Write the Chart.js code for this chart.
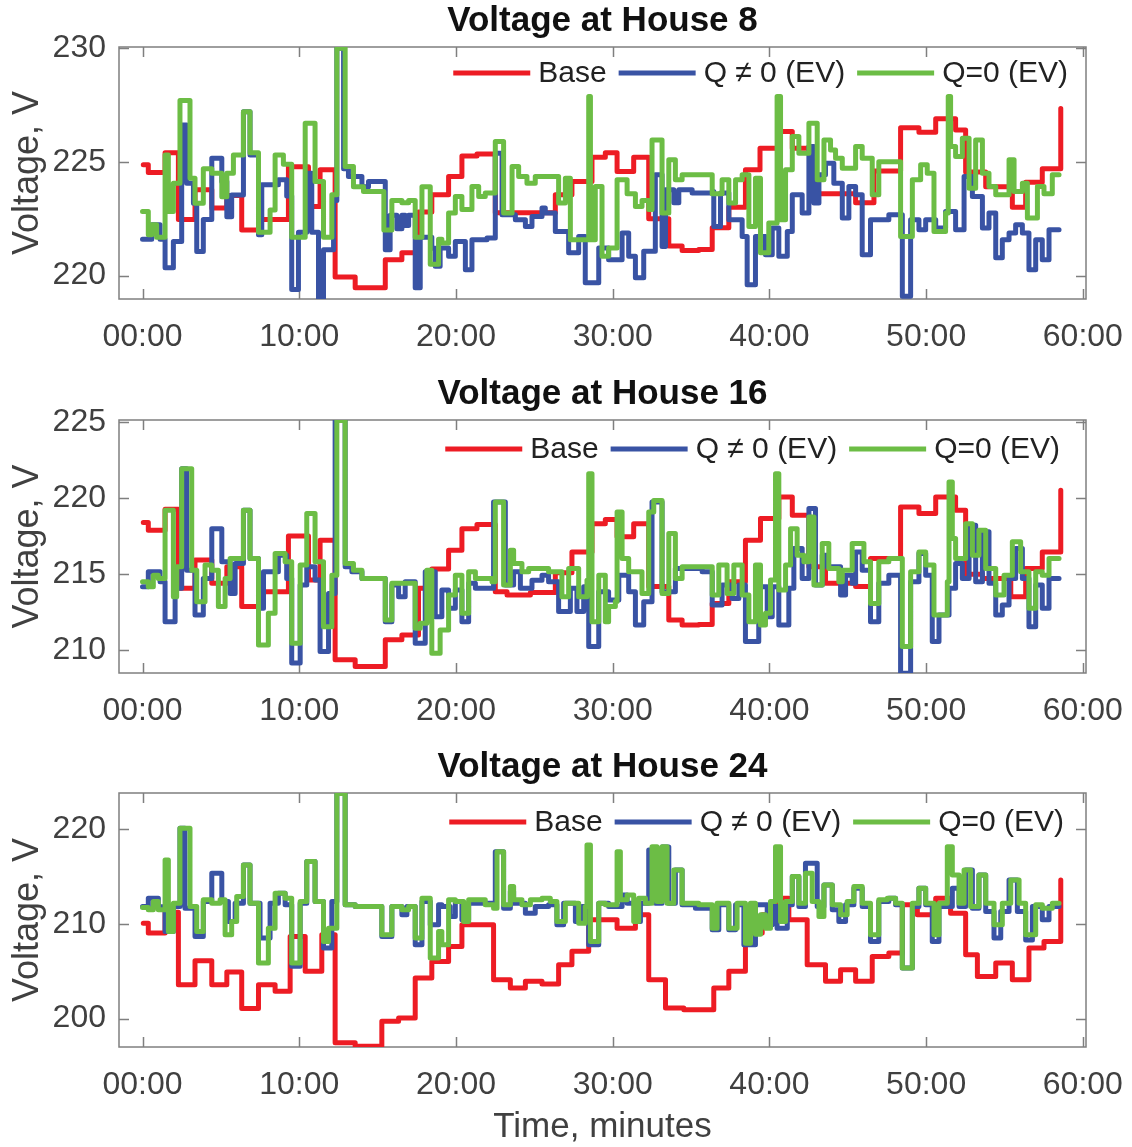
<!DOCTYPE html>
<html>
<head>
<meta charset="utf-8">
<title>Voltage at houses</title>
<script src="https://cdn.jsdelivr.net/npm/chart.js@4.4.1/dist/chart.umd.min.js"></script>
<style>
    html, body { margin: 0; padding: 0; background: #fff; overflow: hidden; }
    canvas { position: absolute; left: 0; }
</style>
</head>
<body>
<canvas id="house8" width="1132" height="372" style="top:0px"></canvas>
<canvas id="house16" width="1132" height="373" style="top:373px"></canvas>
<canvas id="house24" width="1132" height="401" style="top:746px"></canvas>
<script>
// Step series: each time (minutes) starts a new level that holds until the next time.

// ---- House 8 ----
const h8BaseT = [0.05,0.37,1.44,2.29,3.35,4.42,5.38,6.33,7.40,9.31,10.59,11.33,12.29,13.57,15.49,16.55,17.61,18.46,19.53,20.38,21.34,22.51,26.34,27.40,28.68,29.53,30.28,31.34,32.30,33.58,34.43,35.49,36.35,37.41,38.47,39.40,40.60,41.46,42.73,45.50,46.67,48.37,49.54,50.61,51.88,52.52,53.80,55.50,56.35,57.41,58.59];
const h8BaseV = [224.87,224.53,225.4,222.46,223.77,222.97,223.52,222.0,222.46,224.78,223.04,224.65,219.94,219.46,220.7,221.0,222.8,223.55,224.36,225.26,225.35,222.76,223.55,224.14,225.2,225.4,224.58,225.2,222.5,221.3,221.1,221.15,222.1,223.0,224.65,225.6,226.33,225.6,223.6,223.2,224.6,226.5,226.3,226.9,226.4,224.55,223.9,223.0,224.1,224.7,227.35];

const h8QT = [0,0.59,1.12,1.44,1.97,2.50,2.82,3.25,3.46,3.88,4.42,5.06,5.38,5.69,6.44,6.86,7.40,7.61,8.67,9.20,9.52,9.95,10.48,10.80,11.23,11.55,12.19,12.40,12.83,13.14,14.0,14.42,15.49,15.80,16.23,16.55,16.76,16.98,17.40,17.72,18.46,18.68,18.99,19.53,19.96,20.60,21.02,21.98,22.51,22.94,23.79,24.43,24.85,25.49,25.70,26.34,27.19,27.83,28.25,29.11,29.74,30.60,31.02,31.45,31.98,32.72,33.15,33.37,33.90,34.22,35.07,36.35,36.45,36.88,37.41,38.26,38.58,39.11,39.75,40.18,40.60,41.14,41.46,42.09,42.52,42.84,43.16,43.58,44.11,44.65,45.07,45.50,45.92,46.45,47.62,48.48,49.01,49.54,49.97,50.61,51.24,51.88,52.42,52.95,53.59,54.01,54.44,54.86,55.29,55.71,56.14,56.56,56.99,57.41,57.84,58.48];
const h8QV = [221.6,222.24,221.6,220.34,221.5,226.62,224.06,223.18,221.06,222.46,225.16,224.14,222.59,223.54,227.2,225.3,221.8,223.99,224.21,223.5,219.39,221.9,224.5,221.9,218.95,221.14,223.3,230.0,224.7,224.36,223.9,224.14,221.14,222.65,222.06,222.65,222.2,222.65,219.46,221.68,221.2,220.41,221.21,220.85,221.5,220.26,221.58,221.65,225.38,222.67,222.45,222.16,222.6,222.97,222.75,221.94,221.0,221.72,219.68,221.21,220.7,221.87,220.85,219.9,221.07,224.43,221.28,223.77,223.2,223.77,223.63,223.7,222.16,223.63,222.45,221.72,219.6,221.72,220.92,222.09,220.85,221.94,223.55,222.75,225.67,223.19,224.43,224.94,224.06,222.53,223.92,223.55,220.92,222.45,222.67,219.09,222.45,222.02,222.45,222.09,222.82,222.02,224.36,223.48,222.09,222.75,220.78,221.58,221.87,222.24,221.87,220.26,221.58,220.7,222.02,222.02];

const h8ZeroT = [0,0.37,0.59,0.90,1.44,1.65,1.97,2.39,3.03,3.35,3.88,4.42,5.06,5.38,5.80,6.44,6.86,7.40,8.14,8.46,8.99,9.52,10.38,11.01,11.55,12.08,12.40,12.93,13.46,14.10,15.40,15.91,16.55,16.98,17.40,17.83,18.36,18.89,19.10,19.53,19.96,20.38,21.02,21.45,21.87,22.51,23.04,23.58,24.0,24.53,25.06,26.55,26.98,27.30,28.47,28.58,28.89,29.32,29.74,30.28,30.92,31.45,31.87,32.30,32.51,33.15,33.58,34.0,34.43,36.35,36.98,37.41,37.84,38.26,38.69,39.11,39.43,39.96,40.49,40.71,41.03,41.46,41.88,42.52,43.05,43.48,43.90,44.22,44.65,45.50,45.92,46.56,46.98,48.37,49.12,49.65,50.07,50.50,51.24,51.41,51.56,51.88,52.31,52.74,53.16,53.59,54.01,54.44,55.29,55.61,56.14,56.46,57.10,57.52,58.05,58.48];
const h8ZeroV = [222.82,221.8,222.24,221.68,225.3,222.82,224.06,227.7,224.28,223.18,224.7,224.5,223.47,224.5,225.3,227.2,225.4,221.9,222.88,225.3,224.9,221.68,226.7,224.14,221.68,223.55,230.0,224.8,223.9,223.7,222.0,223.3,223.2,223.3,221.68,223.9,220.5,221.6,221.43,222.75,223.48,222.9,223.92,223.48,223.63,225.89,222.75,224.8,224.36,224.06,224.36,223.19,224.28,221.58,227.87,221.58,223.92,220.85,221.21,224.21,223.6,223.04,223.3,222.9,225.96,222.75,225.09,224.21,224.43,223.6,224.21,223.19,224.21,224.43,222.16,224.28,221.0,222.31,227.87,222.45,224.65,226.11,225.38,226.7,224.21,225.96,225.52,225.16,224.72,225.67,225.16,223.55,225.01,221.72,224.21,224.87,224.5,221.94,222.75,227.87,225.67,225.23,226.04,223.84,225.96,224.5,223.92,223.55,225.09,223.7,224.06,222.53,223.92,223.6,224.43,224.43];

// ---- House 16 ----
const h16BaseT = [0.05,0.37,1.44,2.29,3.35,4.42,5.38,6.33,7.40,9.31,10.59,11.33,12.29,13.57,15.49,16.55,17.61,18.46,19.53,20.38,21.34,22.51,23.26,24.75,26.34,27.40,28.68,29.53,30.28,31.34,32.30,33.58,34.43,35.49,36.35,37.41,38.47,39.43,40.60,41.46,42.52,43.58,45.50,46.45,48.37,49.54,50.61,51.88,52.52,53.59,55.40,56.35,57.41,58.59];
const h16BaseV = [218.4,217.9,219.27,214.07,215.93,214.4,215.49,212.87,213.85,217.52,214.62,217.24,209.37,208.93,210.68,211.0,214.07,215.34,216.58,218.0,218.27,213.85,213.63,213.8,215.1,216.47,218.33,218.6,217.46,218.33,214.2,211.99,211.66,211.7,213.08,214.5,217.24,218.66,220.08,218.88,215.49,214.4,214.2,216.04,219.43,218.99,220.08,219.21,215.0,214.72,213.52,215.38,216.47,220.52];

const h16QT = [0,0.37,1.12,1.44,2.08,2.50,2.82,3.35,3.88,4.42,5.06,5.59,5.91,6.44,6.86,7.40,7.72,8.67,9.20,9.52,10.06,10.48,11.01,11.33,11.87,12.29,12.93,13.36,14.0,15.49,15.91,16.34,16.76,17.40,18.04,18.68,19.10,19.53,19.96,20.38,20.81,21.24,22.40,23.15,23.68,24.11,24.85,25.49,25.91,26.55,27.30,27.72,28.15,28.47,29.11,29.74,30.39,31.02,31.45,31.98,32.51,33.15,34.0,35.71,36.35,36.98,37.62,38.05,38.47,39.32,39.86,40.18,40.60,41.24,41.56,42.09,42.52,42.94,43.37,43.69,44.54,44.86,45.28,45.50,45.92,46.45,46.98,47.62,48.37,49.01,49.54,49.97,50.39,50.82,51.46,51.88,52.31,52.74,53.16,53.59,54.01,54.44,54.86,55.29,55.71,56.14,56.56,56.99,57.41,57.84,58.48];
const h16QV = [214.18,215.16,214.5,211.88,214.07,221.94,215.27,212.32,214.72,218.0,215.82,213.74,215.71,219.21,216.04,212.76,215.16,216.25,214.72,209.15,214.29,215.49,214.62,209.91,213.74,225.11,215.49,215.16,214.72,211.88,214.29,213.52,214.5,210.46,215.16,212.21,213.96,212.76,213.96,211.88,214.4,214.07,219.75,214.29,215.16,214.07,214.6,214.94,214.5,212.54,214.07,212.54,214.18,210.24,213.85,213.3,214.94,213.85,211.66,213.19,219.75,213.85,215.38,215.16,212.97,214.29,213.41,214.29,210.57,214.18,212.21,214.18,211.66,214.07,216.69,214.72,219.32,214.29,216.25,215.49,213.63,214.94,214.4,216.47,215.27,211.88,214.4,214.94,208.49,214.5,216.36,214.94,210.57,212.32,214.07,215.71,214.72,218.22,214.5,217.79,214.4,212.32,212.97,214.72,216.69,214.72,211.55,214.29,212.76,214.72,214.72];

const h16ZeroT = [0,0.37,0.69,1.01,1.44,1.97,2.18,2.50,3.14,3.46,3.99,4.42,4.84,5.27,5.59,6.44,6.86,7.40,8.03,8.46,9.10,9.52,10.06,10.48,11.01,11.55,12.08,12.40,12.93,13.46,14.0,15.49,15.91,17.40,17.72,18.14,18.46,18.99,19.53,19.96,20.38,20.81,21.24,22.30,22.51,23.04,23.47,23.68,24.21,24.64,25.91,26.76,27.19,27.83,28.36,28.47,28.68,29.11,29.53,29.74,30.17,30.28,30.60,31.02,31.87,32.30,32.62,33.15,33.58,34.0,34.43,36.35,36.77,37.30,37.73,38.26,38.69,39.11,39.43,39.75,40.07,40.39,40.60,41.03,41.35,41.77,42.20,42.52,42.84,43.37,43.79,44.43,44.65,45.28,46.03,46.45,46.98,47.62,48.48,49.01,49.54,49.97,50.50,51.35,51.46,51.67,51.88,52.52,52.95,53.37,53.80,54.44,54.97,55.50,56.03,56.56,56.99,57.41,57.84,58.48];
const h16ZeroV = [214.5,214.18,214.94,214.72,219.21,213.52,215.49,221.94,215.27,213.19,215.6,215.27,212.87,214.72,216.04,219.21,216.04,210.35,212.43,216.36,215.82,210.46,215.6,218.99,215.82,211.55,214.94,225.11,215.71,215.27,214.72,211.99,214.4,211.44,211.77,215.27,209.8,211.33,213.63,214.94,212.43,215.16,214.72,214.5,219.75,214.29,216.58,215.71,215.16,215.38,215.16,213.52,215.38,213.52,214.6,221.61,211.88,214.94,211.88,212.87,213.2,219.1,216.04,215.16,213.74,219.1,219.86,213.74,217.68,214.72,215.49,213.63,215.6,213.74,215.6,213.63,211.88,215.6,211.66,212.43,214.62,221.61,213.96,215.6,218.0,216.25,215.82,218.77,214.29,217.02,215.38,214.5,215.27,217.02,215.82,213.08,215.82,216.04,210.24,215.16,216.47,215.6,212.32,214.5,221.07,217.35,216.04,218.33,216.25,217.9,215.38,213.63,214.94,217.13,215.16,212.76,215.16,214.94,216.04,216.04];

// ---- House 24 ----
const h24BaseT = [0.05,0.37,1.44,2.29,3.35,4.42,5.38,6.33,7.40,8.46,9.42,10.38,11.44,12.29,13.57,15.27,16.34,17.40,18.46,19.53,20.38,22.40,23.47,24.43,25.49,26.55,27.40,28.47,30.28,31.45,32.30,33.37,34.54,36.45,37.41,38.47,39.54,40.39,41.24,42.41,43.58,44.54,45.50,46.56,47.62,48.48,49.44,50.61,51.56,52.52,53.27,54.44,55.50,56.56,57.52,58.59];
const h24BaseV = [210.07,209.02,211.23,203.58,206.1,203.58,204.91,201.05,203.58,202.88,208.67,204.98,208.84,197.44,197.09,199.72,200.07,204.28,206.03,207.61,209.89,204.1,203.23,203.93,203.65,205.68,207.09,210.42,209.54,210.95,204.1,201.12,200.94,203.23,204.98,209.02,210.95,212.7,210.42,205.68,203.93,205.16,203.93,206.56,206.91,212.0,210.95,212.7,211.12,206.73,204.45,205.86,204.1,207.44,208.14,214.63];

const h24QT = [0,0.37,1.01,1.44,1.97,2.39,2.71,3.35,3.88,4.42,5.06,5.48,5.91,6.44,6.86,7.50,8.14,8.67,9.10,9.52,10.06,10.48,11.01,11.55,12.08,12.40,12.93,13.57,15.27,15.91,16.55,16.87,17.40,17.83,18.36,18.89,19.10,19.63,19.96,20.38,20.81,22.51,23.04,23.47,23.68,24.43,25.06,25.91,26.44,26.87,27.62,28.04,28.47,29.11,29.74,30.60,30.92,31.45,31.77,32.30,32.72,33.15,33.58,34.0,34.43,35.28,36.35,36.77,37.41,37.84,38.37,39.11,39.86,40.18,40.49,41.14,41.46,41.88,42.30,43.05,43.48,44.01,44.43,44.86,45.39,45.92,46.45,46.98,47.62,48.05,48.48,49.12,49.54,49.97,50.39,50.82,51.67,52.10,52.52,52.95,53.37,53.80,54.33,54.76,55.29,55.82,56.35,56.78,57.41,57.84,58.48];
const h24QV = [211.82,212.7,211.8,209.19,211.82,220.07,211.65,208.67,212.35,215.33,212.35,210.24,212.18,216.21,212.18,208.5,212.18,213.23,212.0,205.51,212.18,216.56,212.35,207.44,212.35,223.75,212.0,211.82,208.67,211.82,210.95,211.82,207.79,212.35,209.89,212.0,211.82,210.77,212.35,210.42,212.18,217.61,211.65,213.4,212.18,211.12,211.82,212.0,209.89,212.18,210.24,211.82,207.79,212.18,211.82,213.05,212.18,210.24,212.18,217.79,212.18,218.1,212.18,215.68,212.0,211.65,209.37,212.0,209.37,212.0,207.79,212.0,209.89,211.82,209.54,212.0,214.98,211.82,216.39,211.82,214.1,211.47,210.24,212.0,213.75,211.82,208.14,212.35,212.7,212.0,205.33,211.82,213.75,212.0,208.14,211.82,213.75,211.82,215.68,211.65,215.16,211.3,208.49,211.3,214.63,211.3,208.3,211.82,210.42,211.82,211.82];

const h24ZeroT = [0,0.37,0.69,1.01,1.44,1.65,1.97,2.39,3.03,3.46,3.88,4.42,4.95,5.27,5.69,6.01,6.44,6.86,7.40,8.03,8.46,9.10,9.52,10.06,10.48,11.01,11.55,11.87,12.40,12.93,13.57,15.27,15.91,16.55,16.98,17.40,17.83,18.36,18.89,19.10,19.53,19.96,20.49,20.81,21.87,22.40,22.62,23.04,23.47,23.68,24.21,24.75,25.49,26.02,26.44,26.98,27.83,28.25,28.36,28.58,29.11,29.53,30.28,30.49,30.92,31.34,31.66,32.09,32.51,32.83,33.15,33.47,33.90,34.43,35.49,36.35,36.66,37.41,37.94,38.47,38.79,39.11,39.43,39.75,40.07,40.39,40.71,41.03,41.46,41.88,42.30,42.73,43.16,43.48,44.01,44.54,44.96,45.39,45.92,46.45,46.98,47.52,48.05,48.48,49.12,49.54,49.97,50.50,50.82,51.35,51.67,52.10,52.42,52.84,53.37,53.80,54.33,54.86,55.40,55.93,56.35,56.99,57.41,58.05,58.48];
const h24ZeroV = [211.72,211.47,212.35,211.47,216.74,209.19,212.18,220.07,211.82,209.19,212.53,212.18,212.53,208.84,210.24,212.88,216.21,212.18,205.86,209.54,213.23,212.7,205.86,212.35,216.56,212.35,208.14,209.54,223.75,212.0,211.82,208.84,211.82,211.47,211.82,208.49,212.7,206.38,209.19,207.79,212.53,212.35,210.24,212.53,212.0,211.65,217.61,212.0,213.93,212.53,212.0,212.53,212.7,212.35,210.24,212.18,210.07,211.82,218.31,208.14,212.18,212.0,217.61,212.53,213.05,210.24,212.7,212.18,218.14,212.35,218.14,212.18,215.68,212.18,212.0,209.54,212.18,209.54,212.18,207.96,212.18,208.9,210.95,209.54,212.35,218.14,210.24,212.35,214.98,212.18,215.33,212.35,210.77,214.1,212.0,210.95,212.35,213.93,212.18,208.84,212.53,212.7,212.18,205.33,212.18,213.75,212.18,208.84,212.18,218.14,215.16,212.18,215.68,211.82,215.16,212.18,209.89,212.18,214.63,212.18,208.84,212.0,211.65,212.18,212.18];

const seriesLabels = ['Base', 'Q \u2260 0 (EV)', 'Q=0 (EV)'];
const xTicks = [0, 10, 20, 30, 40, 50, 60];

const RED = '#ED1C24';
const BLUE = '#3953A4';
const GREEN = '#6CBD45';
const AXIS_GRAY = '#7f7f7f';
const TEXT_GRAY = '#404040';
const FONT = "'Liberation Sans', Arial, Helvetica, sans-serif";

Chart.defaults.font.family = FONT;

function steps(times, values) {
    return times.map((t, i) => ({ x: t, y: values[i] }));
}

// Box around the plot area with inward tick marks on all four sides
const boxTicks = {
    id: 'boxTicks',
    beforeDatasetsDraw(chart, args, opts) {
        const { ctx, chartArea: a, scales: { x, y } } = chart;
        const len = opts.length;
        ctx.save();
        ctx.strokeStyle = opts.color;
        ctx.lineWidth = opts.width;
        ctx.strokeRect(a.left, a.top, a.right - a.left, a.bottom - a.top);
        ctx.beginPath();
        x.ticks.forEach(t => {
            const px = Math.round(x.getPixelForValue(t.value)) + 0.5;
            ctx.moveTo(px, a.bottom);
            ctx.lineTo(px, a.bottom - len);
            ctx.moveTo(px, a.top);
            ctx.lineTo(px, a.top + len);
        });
        y.ticks.forEach(t => {
            const py = Math.round(y.getPixelForValue(t.value)) + 0.5;
            ctx.moveTo(a.left, py);
            ctx.lineTo(a.left + len, py);
            ctx.moveTo(a.right, py);
            ctx.lineTo(a.right - len, py);
        });
        ctx.stroke();
        ctx.restore();
    }
};

// One-row legend drawn inside the top right corner of the plot area
const rowLegend = {
    id: 'rowLegend',
    afterDatasetsDraw(chart, args, opts) {
        const { ctx, chartArea: a } = chart;
        ctx.save();
        ctx.font = opts.size + 'px ' + FONT;
        ctx.textBaseline = 'middle';
        const items = chart.data.datasets.map(ds => ({
            text: ds.label,
            color: ds.borderColor,
            w: ctx.measureText(ds.label).width
        }));
        const total = items.reduce((s, it) => s + opts.lineLen + opts.gap + it.w, 0) + opts.spacing * (items.length - 1);
        let x = a.right - opts.right - total;
        const y = a.top + opts.top;
        items.forEach(it => {
            ctx.strokeStyle = it.color;
            ctx.lineWidth = 5;
            ctx.beginPath();
            ctx.moveTo(x, y);
            ctx.lineTo(x + opts.lineLen, y);
            ctx.stroke();
            x += opts.lineLen + opts.gap;
            ctx.fillStyle = opts.color;
            ctx.fillText(it.text, x, y + 1);
            x += it.w + opts.spacing;
        });
        ctx.restore();
    }
};

function lineSet(label, data, color, order) {
    return {
        label: label,
        data: data,
        borderColor: color,
        backgroundColor: color,
        borderWidth: 5,
        stepped: true,
        pointRadius: 0,
        fill: false,
        borderJoinStyle: 'round',
        borderCapStyle: 'round',
        order: order
    };
}

function makePanel(id, title, yMin, yMax, yStep, base, q, zero, xAxisHeight, showXTitle, legendTop, legendRight) {
    return new Chart(document.getElementById(id), {
        type: 'line',
        data: {
            datasets: [
                lineSet(seriesLabels[0], base, RED, 3),
                lineSet(seriesLabels[1], q, BLUE, 2),
                lineSet(seriesLabels[2], zero, GREEN, 1)
            ]
        },
        options: {
            responsive: false,
            animation: false,
            events: [],
            layout: { padding: { left: 0, right: 46, top: 0, bottom: 0 } },
            plugins: {
                title: {
                    display: true,
                    text: title,
                    fullSize: false,
                    color: '#111',
                    font: { size: 35, weight: 'bold' },
                    padding: { top: 0, bottom: 5 }
                },
                legend: { display: false },
                tooltip: { enabled: false },
                boxTicks: { color: AXIS_GRAY, width: 1.5, length: 10 },
                rowLegend: {
                    size: 30, color: '#222', lineLen: 77, gap: 8, spacing: 12,
                    top: legendTop, right: legendRight
                }
            },
            scales: {
                x: {
                    type: 'linear',
                    min: -1.5,
                    max: 60.2,
                    grid: { display: false, drawTicks: false },
                    border: { display: false },
                    afterBuildTicks(scale) {
                        scale.ticks = xTicks.map(v => ({ value: v }));
                    },
                    ticks: {
                        color: TEXT_GRAY,
                        font: { size: 32 },
                        padding: 19,
                        maxRotation: 0,
                        autoSkip: false,
                        callback: v => String(v).padStart(2, '0') + ':00'
                    },
                    title: {
                        display: showXTitle,
                        text: 'Time, minutes',
                        color: TEXT_GRAY,
                        font: { size: 35, lineHeight: 1.1 },
                        padding: { top: 0, bottom: 0 }
                    },
                    afterFit(scale) {
                        scale.height = xAxisHeight;
                        scale.paddingLeft = 0;
                        scale.paddingRight = 0;
                    }
                },
                y: {
                    min: yMin,
                    max: yMax,
                    grid: { display: false, drawTicks: false },
                    border: { display: false },
                    ticks: {
                        stepSize: yStep,
                        includeBounds: false,
                        color: TEXT_GRAY,
                        font: { size: 32 },
                        padding: 13
                    },
                    title: {
                        display: true,
                        text: 'Voltage, V',
                        color: TEXT_GRAY,
                        font: { size: 36 },
                        padding: { top: 6, bottom: 0 }
                    },
                    afterFit(scale) {
                        scale.width = 119;
                    }
                }
            }
        },
        plugins: [boxTicks, rowLegend]
    });
}

makePanel('house8', 'Voltage at House 8', 218.97, 230.05, 5,
    steps(h8BaseT, h8BaseV), steps(h8QT, h8QV), steps(h8ZeroT, h8ZeroV), 73, false, 26, 18);
makePanel('house16', 'Voltage at House 16', 208.5, 225.15, 5,
    steps(h16BaseT, h16BaseV), steps(h16QT, h16QV), steps(h16ZeroT, h16ZeroV), 73, false, 29, 26);
makePanel('house24', 'Voltage at House 24', 197.0, 223.8, 10,
    steps(h24BaseT, h24BaseV), steps(h24QT, h24QV), steps(h24ZeroT, h24ZeroV), 100, true, 29, 22);
</script>
</body>
</html>
